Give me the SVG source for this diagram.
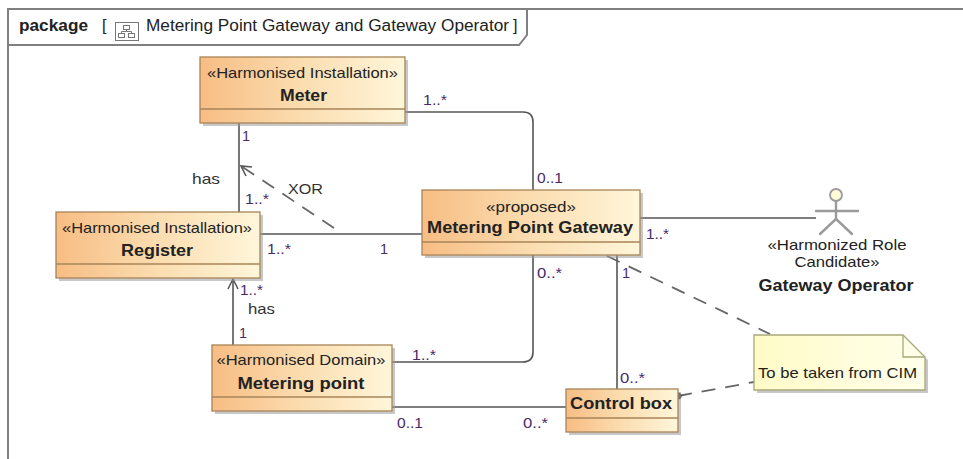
<svg xmlns="http://www.w3.org/2000/svg" width="963" height="459" viewBox="0 0 963 459">
<defs>
<linearGradient id="cls" x1="0" y1="0" x2="1" y2="0">
<stop offset="0" stop-color="#F7BD84"/>
<stop offset="0.5" stop-color="#FBDDB0"/>
<stop offset="1" stop-color="#FFF6DA"/>
</linearGradient>
<linearGradient id="note" x1="0" y1="0" x2="1" y2="0">
<stop offset="0" stop-color="#FFFBC8"/>
<stop offset="1" stop-color="#FFFFEA"/>
</linearGradient>
<marker id="open" viewBox="0 0 12 12" refX="11" refY="6" markerWidth="12" markerHeight="12" markerUnits="userSpaceOnUse" orient="auto">
<path d="M1,1 L11,6 L1,11" fill="none" stroke="#555" stroke-width="1.5"/>
</marker>
</defs>
<style>
text{font-family:"Liberation Sans",Arial,sans-serif;fill:#222}
.st{font-size:15px}
.nm{font-size:16.5px;font-weight:bold}
.mul{font-size:14.5px;fill:#4a2a6a}
.lbl{font-size:15px;fill:#333}
.box{fill:url(#cls);stroke:#A88458;stroke-width:1.3}
.sh{fill:#9a9a9a;opacity:0.55}
.cmp{stroke:#A88458;stroke-width:1.3}
.ln{fill:none;stroke:#555;stroke-width:1.6}
.dash{fill:none;stroke:#666;stroke-width:1.8;stroke-dasharray:14 10}
.frame{fill:none;stroke:#808080;stroke-width:2}
</style>

<g id="frame">
<path class="frame" d="M8,459 V9 H963"/>
<path class="frame" d="M8,45 H519 L527,35 V9"/>
<text x="19" y="31" style="font-size:16px;font-weight:bold" textLength="69" lengthAdjust="spacingAndGlyphs">package</text>
<text x="102" y="31" style="font-size:16px">[</text>
<g fill="none" stroke="#777" stroke-width="1">
<rect x="115.5" y="22.5" width="23" height="18" fill="#fff"/>
<rect x="123.5" y="25.5" width="6" height="4"/>
<rect x="118.5" y="33.5" width="6" height="4"/>
<rect x="128.5" y="33.5" width="6" height="4"/>
<path d="M126.5,29.5 V31.5 H121.5 V33.5 M126.5,31.5 H131.5 V33.5"/>
</g>
<text x="146" y="31" style="font-size:16px" textLength="363" lengthAdjust="spacingAndGlyphs">Metering Point Gateway and Gateway Operator</text>
<text x="513" y="31" style="font-size:16px">]</text>
</g>

<g id="connectors">
<path class="ln" d="M405,112 H523 Q533,112 533,122 V190"/>
<path class="ln" d="M239,123 V212"/>
<path class="ln" d="M260,234 H422"/>
<path class="ln" d="M640,218 H816"/>
<path class="ln" d="M233,345 V279" marker-end="url(#open)"/>
<path class="ln" d="M533,255 V352 Q533,362 523,362 H392"/>
<path class="ln" d="M392,407 H566"/>
<path class="ln" d="M617,255 V389"/>
<path class="dash" d="M334,228 L241,166"/>
<path class="ln" d="M252,167 L241,166 L246,176"/>
<path class="dash" d="M607,256 L770,334"/>
<path class="dash" d="M678,396 L754,382"/>
<circle cx="678" cy="396" r="3.6" fill="#444"/>
<text class="mul" x="423" y="105" textLength="24" lengthAdjust="spacingAndGlyphs">1..*</text>
<text class="mul" x="537" y="183" textLength="26" lengthAdjust="spacingAndGlyphs">0..1</text>
<text class="mul" x="242" y="141">1</text>
<text class="lbl" x="192" y="184" textLength="28" lengthAdjust="spacingAndGlyphs">has</text>
<text class="mul" x="245" y="204" textLength="24" lengthAdjust="spacingAndGlyphs">1..*</text>
<text class="lbl" x="288" y="194" textLength="35" lengthAdjust="spacingAndGlyphs">XOR</text>
<text class="mul" x="267" y="254" textLength="24" lengthAdjust="spacingAndGlyphs">1..*</text>
<text class="mul" x="380" y="254">1</text>
<text class="mul" x="240" y="295" textLength="23" lengthAdjust="spacingAndGlyphs">1..*</text>
<text class="lbl" x="248" y="314" textLength="27" lengthAdjust="spacingAndGlyphs">has</text>
<text class="mul" x="239" y="338">1</text>
<text class="mul" x="412" y="360" textLength="24" lengthAdjust="spacingAndGlyphs">1..*</text>
<text class="mul" x="397" y="428" textLength="26" lengthAdjust="spacingAndGlyphs">0..1</text>
<text class="mul" x="523" y="428" textLength="25" lengthAdjust="spacingAndGlyphs">0..*</text>
<text class="mul" x="537" y="278" textLength="25" lengthAdjust="spacingAndGlyphs">0..*</text>
<text class="mul" x="622" y="278">1</text>
<text class="mul" x="646" y="239" textLength="23" lengthAdjust="spacingAndGlyphs">1..*</text>
<text class="mul" x="620" y="383" textLength="25" lengthAdjust="spacingAndGlyphs">0..*</text>
</g>

<g id="meter">
<rect class="sh" x="203" y="60" width="205" height="66"/>
<rect class="box" x="200" y="57" width="205" height="66"/>
<line class="cmp" x1="200" y1="109" x2="405" y2="109"/>
<text class="st" x="302.5" y="77.5" text-anchor="middle" textLength="191" lengthAdjust="spacingAndGlyphs">«Harmonised Installation»</text>
<text class="nm" x="303.5" y="101" text-anchor="middle" textLength="47" lengthAdjust="spacingAndGlyphs">Meter</text>
</g>

<g id="register">
<rect class="sh" x="59" y="215" width="204" height="66"/>
<rect class="box" x="56" y="212" width="204" height="66"/>
<line class="cmp" x1="56" y1="264" x2="260" y2="264"/>
<text class="st" x="157" y="232.5" text-anchor="middle" textLength="190" lengthAdjust="spacingAndGlyphs">«Harmonised Installation»</text>
<text class="nm" x="157" y="256" text-anchor="middle" textLength="72" lengthAdjust="spacingAndGlyphs">Register</text>
</g>

<g id="mpg">
<rect class="sh" x="425" y="193" width="218" height="65"/>
<rect class="box" x="422" y="190" width="218" height="65"/>
<line class="cmp" x1="422" y1="242" x2="640" y2="242"/>
<text class="st" x="531" y="211.5" text-anchor="middle" textLength="90" lengthAdjust="spacingAndGlyphs">«proposed»</text>
<text class="nm" x="530" y="233" text-anchor="middle" textLength="206" lengthAdjust="spacingAndGlyphs">Metering Point Gateway</text>
</g>

<g id="meteringpoint">
<rect class="sh" x="215" y="348" width="180" height="66"/>
<rect class="box" x="212" y="345" width="180" height="66"/>
<line class="cmp" x1="212" y1="397" x2="392" y2="397"/>
<text class="st" x="301" y="364.5" text-anchor="middle" textLength="169" lengthAdjust="spacingAndGlyphs">«Harmonised Domain»</text>
<text class="nm" x="301" y="389" text-anchor="middle" textLength="127" lengthAdjust="spacingAndGlyphs">Metering point</text>
</g>

<g id="controlbox">
<rect class="sh" x="569" y="392" width="112" height="43"/>
<rect class="box" x="566" y="389" width="112" height="43"/>
<line class="cmp" x1="566" y1="418" x2="678" y2="418"/>
<text class="nm" x="621" y="409" text-anchor="middle" textLength="102" lengthAdjust="spacingAndGlyphs">Control box</text>
</g>

<g id="gatewayoperator">
<g fill="none" stroke="#9a9a9a" stroke-width="2.4" stroke-linecap="round">
<line x1="836" y1="201" x2="836" y2="219"/>
<line x1="816" y1="211" x2="858" y2="211"/>
<line x1="836" y1="219" x2="820" y2="234"/>
<line x1="836" y1="219" x2="852" y2="234"/>
</g>
<circle cx="836" cy="195" r="6" fill="#FFFBD6" stroke="#9a9a9a" stroke-width="1.8"/>
<text class="st" x="837" y="249.5" text-anchor="middle" textLength="139" lengthAdjust="spacingAndGlyphs">«Harmonized Role</text>
<text class="st" x="837" y="266.5" text-anchor="middle" textLength="85" lengthAdjust="spacingAndGlyphs">Candidate»</text>
<text class="nm" x="836" y="291" text-anchor="middle" textLength="155" lengthAdjust="spacingAndGlyphs">Gateway Operator</text>
</g>

<g id="note1">
<path d="M757,338 H906 L928,360 V393 H757 Z" fill="#9a9a9a" opacity="0.55"/>
<path d="M754,335 H903 L925,357 V390 H754 Z" fill="url(#note)" stroke="#A8A878" stroke-width="1.3"/>
<path d="M903,335 V357 H925" fill="none" stroke="#A8A878" stroke-width="1.3"/>
<text class="st" x="758" y="377.5" textLength="159" lengthAdjust="spacingAndGlyphs">To be taken  from CIM</text>
</g>
</svg>
